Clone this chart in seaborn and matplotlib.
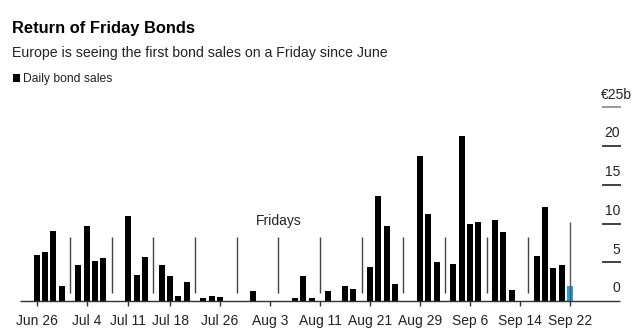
import matplotlib
matplotlib.use("Agg")
import matplotlib.pyplot as plt
import seaborn as sns
import pandas as pd
import numpy as np
from matplotlib.patches import Rectangle

# ---------------- data ----------------
dates = pd.bdate_range("2023-06-26", "2023-09-22")
# daily bond sales (EUR bn) for each business day; None = Friday (no sales)
daily_sales = [
    6.0, 6.3, 9.0, 2.0, None,
    4.7, 9.7, 5.1, 5.55, None,
    0.0, 10.95, 3.4, 5.65, None,
    4.65, 3.2, 0.7, 2.4, None,
    0.35, 0.6, 0.5, 0.0, None,
    0.0, 1.25, 0.0, 0.0, None,
    0.0, 0.35, 3.2, 0.45, None,
    1.25, 0.0, 1.95, 1.5, None,
    4.4, 13.6, 9.7, 2.2, None,
    0.0, 18.7, 11.2, 5.0, None,
    4.75, 21.35, 10.0, 10.2, None,
    10.4, 8.9, 1.4, 0.0, None,
    5.85, 12.1, 4.3, 4.7, None,
]
friday_sales = {"2023-09-22": 1.95}
tick_labels = ["Jun 26", "Jul 4", "Jul 11", "Jul 18", "Jul 26", "Aug 3",
               "Aug 11", "Aug 21", "Aug 29", "Sep 6", "Sep 14", "Sep 22"]
y_ticks = [0, 5, 10, 15, 20, 25]

title = "Return of Friday Bonds"
subtitle = "Europe is seeing the first bond sales on a Friday since June"
legend_label = "Daily bond sales"

# ---------------- build table ----------------
keys = [d.strftime("%Y-%m-%d") for d in dates]
vals = []
kinds = []
for k, v in zip(keys, daily_sales):
    if v is None and k in friday_sales:
        vals.append(friday_sales[k]); kinds.append("friday")
    else:
        vals.append(v); kinds.append("daily")
df = pd.DataFrame({"date": keys, "value": vals, "kind": kinds})

BLACK = "#000000"
BLUE = "#2a9fd6"

# ---------------- figure ----------------
sns.set_theme(style="white")
plt.rcParams["font.family"] = ["Liberation Sans", "DejaVu Sans"]

fig = plt.figure(figsize=(6.42, 3.34), dpi=100)
ax = fig.add_axes([0, 0, 1, 1])

sns.barplot(data=df, x="date", y="value", hue="kind", order=keys,
            hue_order=["daily", "friday"], palette={"daily": BLACK, "friday": BLUE},
            dodge=False, width=0.74, legend=False, ax=ax, saturation=1,
            linewidth=0, edgecolor="none")

# Friday marker lines
for i, d in enumerate(dates):
    if d.weekday() == 4:
        k = keys[i]
        if k in friday_sales:
            ax.vlines(i, 0, 10.25, color="#555555", lw=1.0, zorder=1)
        else:
            ax.vlines(i, 1.03, 8.3, color="#444444", lw=1.0, zorder=1)

ax.text(29.1, 9.8, "Fridays", ha="center", va="baseline", fontsize=10, color="#222222")

# baseline
ax.hlines(0, -2.0, 70.0, color="#333333", lw=1.0, zorder=3)

# x ticks
label_map = {d.strftime("%b %-d"): i for i, d in enumerate(dates)}
for lab in tick_labels:
    i = label_map[lab]
    ax.vlines(i, -0.65, 0, color="#333333", lw=1.0)
    ax.text(i, -3.16, lab, ha="center", va="baseline", fontsize=10, color="#222222")

# y ticks on right
for v in y_ticks:
    if v > 0:
        ax.hlines(v, 67.8, 70.08, color="#888888" if v == 25 else "#222222", lw=1.2)
    if v == 25:
        ax.text(71.4, v + 1.64, "€25b", ha="right", va="center", fontsize=10, color="#222222")
    else:
        ax.text(70.0, v + 1.64, str(v), ha="right", va="center", fontsize=10, color="#222222")

ax.set_xlim(-4.404, 72.64)
ax.set_ylim(-4.259, 38.85)
ax.axis("off")

# titles and legend
fig.text(12 / 642, 1 - 33 / 334, title, fontsize=11.9, fontweight="bold",
         ha="left", va="baseline", color="#000000")
fig.text(12 / 642, 1 - 57.3 / 334, subtitle, fontsize=10.2,
         ha="left", va="baseline", color="#222222")
fig.patches.append(Rectangle((12.7 / 642, 1 - 81.7 / 334), 6.8 / 642, 7.7 / 334,
                             transform=fig.transFigure, facecolor=BLACK, edgecolor="none"))
fig.text(23.3 / 642, 1 - 81.7 / 334, legend_label, fontsize=8.7,
         ha="left", va="baseline", color="#222222")

fig.savefig("out.png", dpi=100)
